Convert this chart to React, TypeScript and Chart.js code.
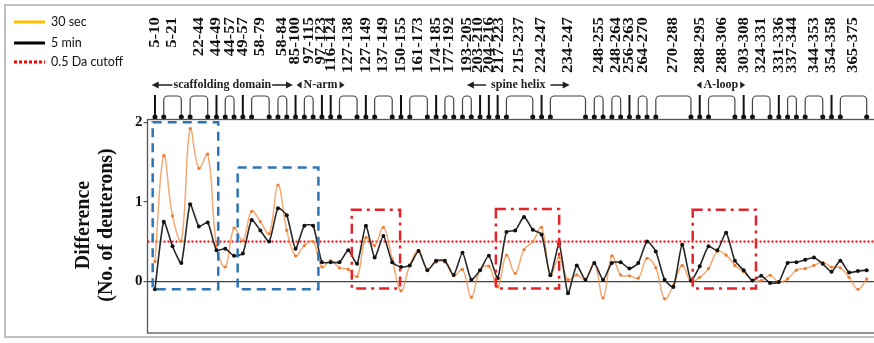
import React, { useEffect, useRef } from 'react';
import { Chart, registerables } from 'chart.js';

Chart.register(...registerables);

// ---------- data ----------
const peptideLabels = [
  '5-10', '5-21', '22-44', '44-49', '44-57', '49-57', '58-79', '58-84', '85-100', '97-115',
  '97-123', '116-124', '127-138', '127-149', '137-149', '150-155', '161-173', '174-185', '177-192', '193-205',
  '203-210', '204-216', '217-223', '215-237', '224-247', '234-247', '248-255', '248-264', '256-263', '264-270',
  '270-288', '288-295', '288-306', '303-308', '324-331', '331-336', '337-344', '344-353', '354-358', '365-375',
];
// first and last point index covered by each peptide label
const peptideFirst = [0, 1, 4, 7, 8, 10, 11, 14, 16, 17, 19, 20, 21, 24, 25, 28, 29, 32, 33, 35, 37, 38, 39, 40, 44, 45, 50, 52, 54, 55, 57, 62, 63, 67, 68, 71, 72, 74, 77, 78];
const peptideLast = [0, 3, 6, 7, 9, 10, 13, 15, 16, 18, 19, 20, 23, 24, 27, 28, 31, 32, 34, 36, 37, 38, 39, 43, 44, 49, 51, 53, 54, 56, 61, 62, 66, 67, 70, 71, 73, 76, 77, 81];

const diff30sec = [
  0.25, 1.58, 0.82, 0.51, 1.92, 1.42, 1.60, 0.45, 0.18, 0.67,
  0.51, 0.88, 0.75, 0.60, 1.21, 0.64, 0.32, 0.45, 0.50, 0.18,
  0.26, 0.17, 0.15, 0.06, 0.55, 0.45, 0.68, 0.28, -0.12, 0.20,
  0.39, 0.15, 0.24, 0.24, 0.07, 0.15, -0.20, 0.14, 0.19, -0.07,
  0.33, 0.10, 0.40, 0.50, 0.68, 0.075, 0.30, 0.02, 0.08, 0.02,
  0.23, -0.21, 0.32, 0.08, 0.07, 0.04, 0.29, 0.17, -0.22, -0.05,
  0.20, 0.00, 0.05, 0.16, 0.375, 0.33, 0.20, 0.12, 0.01, 0.01,
  0.075, -0.01, 0.03, 0.14, 0.16, 0.20, 0.24, 0.18, 0.17, 0.05,
  -0.10, 0.03,
];
const diff5min = [
  -0.10, 0.75, 0.44, 0.23, 0.97, 0.69, 0.74, 0.39, 0.41, 0.32,
  0.35, 0.77, 0.64, 0.50, 0.92, 0.83, 0.41, 0.70, 0.70, 0.24,
  0.24, 0.24, 0.39, 0.22, 0.70, 0.30, 0.57, 0.24, 0.18, 0.20,
  0.38, 0.14, 0.26, 0.26, 0.08, 0.36, 0.02, 0.14, 0.32, 0.04,
  0.62, 0.64, 0.81, 0.65, 0.59, 0.075, 0.47, -0.15, 0.20, 0.02,
  0.23, 0.02, 0.23, 0.24, 0.16, 0.23, 0.50, 0.375, 0.02, -0.07,
  0.46, 0.01, 0.19, 0.44, 0.39, 0.61, 0.26, 0.14, 0.01, 0.07,
  -0.02, -0.01, 0.23, 0.24, 0.27, 0.30, 0.22, 0.12, 0.26, 0.11,
  0.13, 0.14,
];

const cutoff = 0.5;
const yTicks = [0, 1, 2];

const seriesLabels = ['30 sec', '5 min', '0.5 Da cutoff'];
const yTitle = ['Difference', '(No. of deuterons)'];

const regionNames = ['scaffolding domain', 'N-arm', 'spine helix', 'A-loop'];
const regionFrom = [-0.37, 16.1, 35.5, 61.6];
const regionTo = [15.7, 21.6, 47.2, 67.2];

const blueBoxFrom = [-0.26, 9.41];
const blueBoxTo = [7.2, 18.6];
const blueBoxTop = [2.0, 1.43];
const blueBoxBottom = [-0.1, -0.1];

const redBoxFrom = [22.4, 38.8, 61.2];
const redBoxTo = [27.9, 46.0, 68.4];
const redBoxTop = [0.9, 0.91, 0.9];
const redBoxBottom = [-0.09, -0.09, -0.09];

const X_MIN = -0.85;
const X_MAX = 82.06;
const Y_MIN = -0.65;
const Y_MAX = 2.035;

// ---------- drawing helpers ----------
const SERIF = '"Liberation Serif", "Times New Roman", serif';
const SANS = 'Lato, "Open Sans", sans-serif';

function spread(xs: number[], minGap: number) {
  const p = xs.slice();
  for (let it = 0; it < 200; it++) {
    let moved = false;
    for (let i = 0; i < p.length - 1; i++) {
      const d = p[i + 1] - p[i];
      if (d < minGap - 0.01) {
        const s = (minGap - d) / 2;
        p[i] -= s;
        p[i + 1] += s;
        moved = true;
      }
    }
    if (!moved) break;
  }
  return p;
}

function arrowHead(ctx: any, xTip: number, yy: number, dir: number, len: number, half: number) {
  ctx.beginPath();
  ctx.moveTo(xTip, yy);
  ctx.lineTo(xTip - dir * len, yy - half);
  ctx.lineTo(xTip - dir * len, yy + half);
  ctx.closePath();
  ctx.fill();
}

const decorPlugin = {
  id: 'decor',
  afterDraw(chart: any) {
    const { ctx, chartArea: a, scales } = chart;
    const xs = scales.x;
    const ys = scales.y;
    ctx.save();

    // outer figure frame
    ctx.strokeStyle = '#c0c0c0';
    ctx.lineWidth = 2;
    ctx.setLineDash([]);
    ctx.strokeRect(5, 5, 900, 332);

    // legend
    const legY = [22, 43, 62];
    const legColor = ['#FFC000', '#000000', '#FF0000'];
    for (let i = 0; i < seriesLabels.length; i++) {
      ctx.beginPath();
      ctx.strokeStyle = legColor[i];
      ctx.lineWidth = 3;
      ctx.setLineDash(i === 2 ? [3, 2] : []);
      ctx.moveTo(14, legY[i]);
      ctx.lineTo(45, legY[i]);
      ctx.stroke();
      ctx.setLineDash([]);
      ctx.fillStyle = '#111';
      ctx.font = '12.5px ' + SANS;
      ctx.textAlign = 'left';
      ctx.textBaseline = 'middle';
      ctx.fillText(seriesLabels[i], 51, legY[i]);
    }

    // y-axis title
    ctx.fillStyle = '#111';
    ctx.font = 'bold 20px ' + SERIF;
    ctx.textAlign = 'center';
    ctx.textBaseline = 'middle';
    const titleX = [84, 107];
    yTitle.forEach((t, i) => {
      ctx.save();
      ctx.translate(titleX[i], 225);
      ctx.rotate(-Math.PI / 2);
      ctx.fillText(t, 0, 0);
      ctx.restore();
    });

    // peptide labels (rotated)
    const centers = peptideLabels.map((_, i) => xs.getPixelForValue((peptideFirst[i] + peptideLast[i]) / 2));
    const lx = spread(centers, 10.3);
    ctx.font = 'bold 15px ' + SERIF;
    ctx.fillStyle = '#111';
    ctx.textAlign = 'right';
    ctx.textBaseline = 'middle';
    peptideLabels.forEach((t, i) => {
      ctx.save();
      ctx.translate(lx[i], 17);
      ctx.rotate(-Math.PI / 2);
      ctx.scale(1.12, 1);
      ctx.fillText(t, 0, 0);
      ctx.restore();
    });

    // region labels
    const ry = 85;
    ctx.font = 'bold 12px ' + SERIF;
    ctx.textAlign = 'center';
    ctx.textBaseline = 'middle';
    ctx.fillStyle = '#222';
    ctx.strokeStyle = '#222';
    regionNames.forEach((name, i) => {
      const x0 = xs.getPixelForValue(regionFrom[i]);
      const x1 = xs.getPixelForValue(regionTo[i]);
      const tc = (x0 + x1) / 2;
      const tw = ctx.measureText(name).width;
      ctx.fillText(name, tc, ry);
      if (regionTo[i] - regionFrom[i] > 8) {
        const gap = name.length > 12 ? 1 : 5;
        ctx.lineWidth = 1.5;
        ctx.beginPath();
        ctx.moveTo(x0 + 3, ry);
        ctx.lineTo(tc - tw / 2 - gap, ry);
        ctx.moveTo(tc + tw / 2 + gap, ry);
        ctx.lineTo(x1 - 3, ry);
        ctx.stroke();
        arrowHead(ctx, x0, ry, -1, 7, 3.5);
        arrowHead(ctx, x1, ry, 1, 7, 3.5);
      } else {
        arrowHead(ctx, tc - tw / 2 - 7, ry, -1, 5, 3.5);
        arrowHead(ctx, tc + tw / 2 + 7, ry, 1, 5, 3.5);
      }
    });

    // peptide coverage markers
    const yb = 117;
    const yt = 96;
    const r = 4;
    for (let i = 0; i < peptideFirst.length; i++) {
      const xa = xs.getPixelForValue(peptideFirst[i]);
      const xb = xs.getPixelForValue(peptideLast[i]);
      if (peptideFirst[i] === peptideLast[i]) {
        ctx.strokeStyle = '#111';
        ctx.lineWidth = 2;
        ctx.beginPath();
        ctx.moveTo(xa, yt - 1);
        ctx.lineTo(xa, yb);
        ctx.stroke();
        ctx.fillStyle = '#111';
        ctx.beginPath();
        ctx.arc(xa, yb, 2.5, 0, Math.PI * 2);
        ctx.fill();
      } else {
        ctx.strokeStyle = '#444';
        ctx.lineWidth = 1.2;
        ctx.beginPath();
        ctx.moveTo(xa, yb);
        ctx.lineTo(xa, yt + r);
        ctx.arcTo(xa, yt, xa + r, yt, r);
        ctx.lineTo(xb - r, yt);
        ctx.arcTo(xb, yt, xb, yt + r, r);
        ctx.lineTo(xb, yb);
        ctx.stroke();
        ctx.fillStyle = '#111';
        ctx.beginPath();
        ctx.arc(xa, yb, 2.5, 0, Math.PI * 2);
        ctx.arc(xb, yb, 2.5, 0, Math.PI * 2);
        ctx.fill();
      }
    }

    // highlight boxes
    ctx.lineWidth = 2.5;
    ctx.strokeStyle = '#2E75B6';
    ctx.setLineDash([9, 6]);
    blueBoxFrom.forEach((_, i) => {
      const x0 = xs.getPixelForValue(blueBoxFrom[i]);
      const x1 = xs.getPixelForValue(blueBoxTo[i]);
      const y0 = ys.getPixelForValue(blueBoxTop[i]);
      const y1 = ys.getPixelForValue(blueBoxBottom[i]);
      ctx.strokeRect(x0, y0, x1 - x0, y1 - y0);
    });
    ctx.strokeStyle = '#E3242B';
    ctx.setLineDash([10, 5, 3, 5]);
    redBoxFrom.forEach((_, i) => {
      const x0 = xs.getPixelForValue(redBoxFrom[i]);
      const x1 = xs.getPixelForValue(redBoxTo[i]);
      const y0 = ys.getPixelForValue(redBoxTop[i]);
      const y1 = ys.getPixelForValue(redBoxBottom[i]);
      ctx.strokeRect(x0, y0, x1 - x0, y1 - y0);
    });
    ctx.setLineDash([]);

    // plot border
    ctx.strokeStyle = '#555';
    ctx.lineWidth = 1.3;
    ctx.strokeRect(a.left, a.top, a.right - a.left, a.bottom - a.top);

    ctx.restore();
  },
};

export default function App() {
  const canvasRef = useRef<HTMLCanvasElement | null>(null);

  useEffect(() => {
    const canvas = canvasRef.current;
    if (!canvas) return;
    const chart = new Chart(canvas, {
      type: 'line',
      data: {
        datasets: [
          {
            label: seriesLabels[1],
            data: diff5min.map((v, i) => ({ x: i, y: v })),
            borderColor: '#262626',
            borderWidth: 1.6,
            pointRadius: 2,
            pointBorderWidth: 0,
            pointBackgroundColor: '#111',
            tension: 0.2,
          },
          {
            label: seriesLabels[0],
            data: diff30sec.map((v, i) => ({ x: i, y: v })),
            borderColor: 'rgba(240,140,70,0.75)',
            borderWidth: 1.5,
            pointRadius: 1.6,
            pointBorderWidth: 0,
            pointBackgroundColor: '#ED7D31',
            tension: 0.4,
          },
          {
            label: seriesLabels[2],
            data: [{ x: X_MIN, y: cutoff }, { x: X_MAX, y: cutoff }],
            borderColor: '#FF0000',
            borderWidth: 2,
            borderDash: [2, 2],
            pointRadius: 0,
            tension: 0,
          },
        ],
      },
      options: {
        animation: false,
        responsive: false,
        maintainAspectRatio: false,
        layout: { padding: { left: 0, right: 4, top: 119.5, bottom: 10 } },
        plugins: { legend: { display: false }, tooltip: { enabled: false }, title: { display: false } },
        scales: {
          x: { type: 'linear', min: X_MIN, max: X_MAX, display: false },
          y: {
            type: 'linear',
            min: Y_MIN,
            max: Y_MAX,
            afterFit: (s: any) => { s.width = 147.5; },
            afterBuildTicks: (s: any) => { s.ticks = yTicks.map((v) => ({ value: v })); },
            border: { display: false },
            grid: {
              color: (c: any) => (c.tick && c.tick.value === 0 ? '#404040' : 'rgba(0,0,0,0)'),
              lineWidth: 1.2,
              tickColor: '#555',
              tickLength: 4,
              drawTicks: true,
            },
            ticks: {
              padding: 1,
              color: '#111',
              font: { family: SERIF, weight: 'bold', size: 15 },
              callback: (v: any) => String(v),
            },
          },
        },
      },
      plugins: [decorPlugin],
    } as any);
    return () => chart.destroy();
  }, []);

  return (
    <div style={{ position: 'fixed', left: 0, top: 0, width: 874, height: 343, overflow: 'hidden', background: '#fff' }}>
      <canvas ref={canvasRef} width={880} height={343} style={{ display: 'block' }} />
    </div>
  );
}
